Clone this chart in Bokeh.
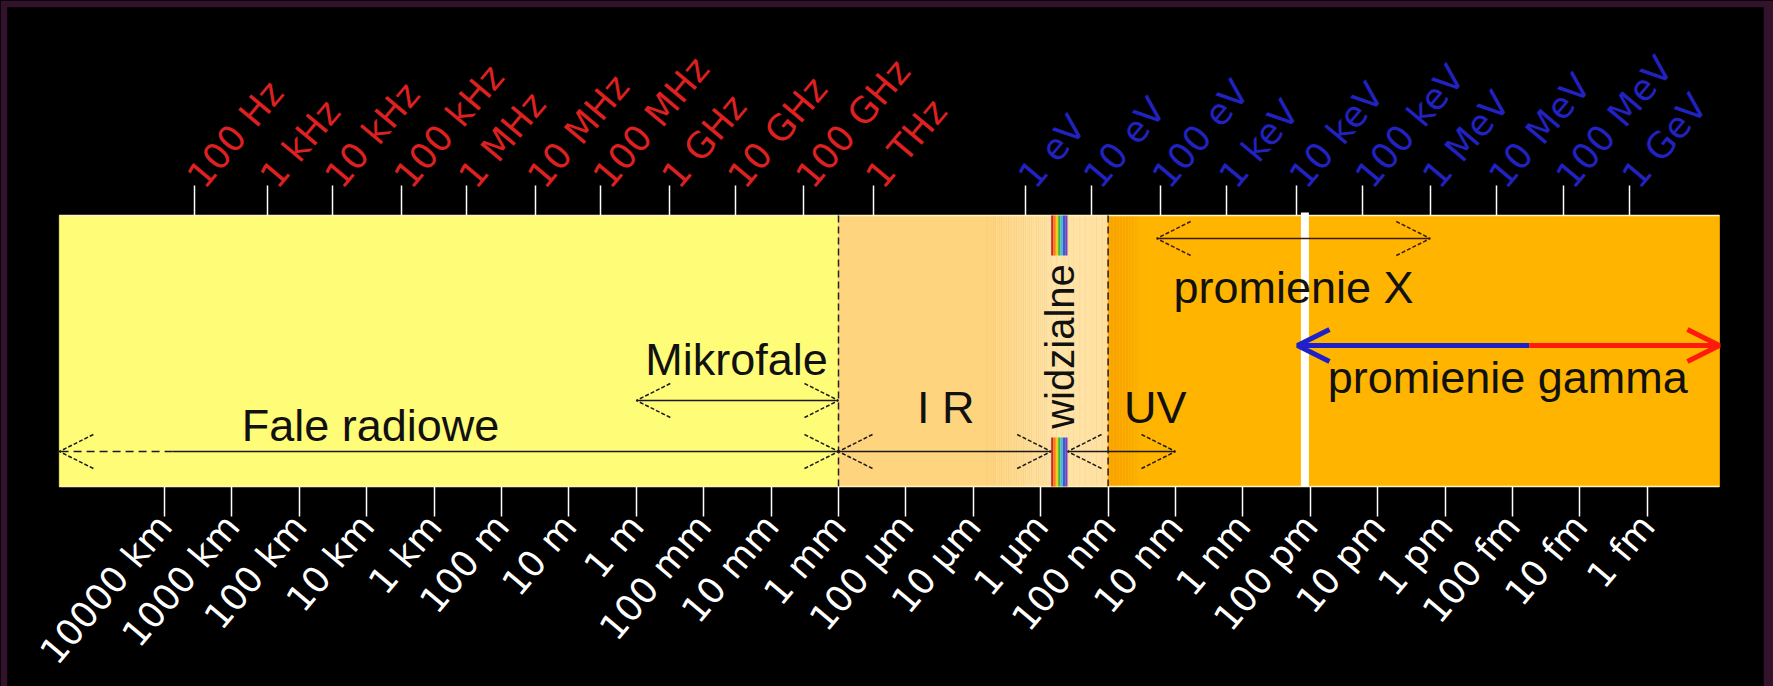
import math
from bokeh.plotting import figure
from bokeh.models import Range1d, LinearAxis, FixedTicker, Arrow, OpenHead, Label
from bokeh.embed import file_html
from bokeh.resources import INLINE

# ---------------- data (x = log10 of wavelength in metres) ----------
wave_labels = ["10000 km", "1000 km", "100 km", "10 km", "1 km", "100 m", "10 m", "1 m",
               "100 mm", "10 mm", "1 mm", "100 \u03bcm", "10 \u03bcm", "1 \u03bcm", "100 nm",
               "10 nm", "1 nm", "100 pm", "10 pm", "1 pm", "100 fm", "10 fm", "1 fm"]
wave_pos = [7, 6, 5, 4, 3, 2, 1, 0, -1, -2, -3, -4, -5, -6, -7, -8, -9, -10, -11, -12, -13, -14, -15]

freq_labels = ["100 Hz", "1 kHz", "10 kHz", "100 kHz", "1 MHz", "10 MHz", "100 MHz",
               "1 GHz", "10 GHz", "100 GHz", "1 THz"]
freq_pos = [6.55, 5.47, 4.51, 3.48, 2.52, 1.50, 0.53, -0.49, -1.47, -2.48, -3.52]

energy_labels = ["1 eV", "10 eV", "100 eV", "1 keV", "10 keV", "100 keV", "1 MeV",
                 "10 MeV", "100 MeV", "1 GeV"]
energy_pos = [-5.78, -6.75, -7.77, -8.76, -9.80, -10.78, -11.78, -12.76, -13.76, -14.74]

# band edges and region boundaries
band_start, band_end = 8.56, -16.07
micro_ir = -3.0          # 1 mm
ir_vis = -6.155          # 700 nm
vis_uv = -6.398          # 400 nm
uv_line = -7.0           # 100 nm
white_mark = -9.92

# ranges covered by the labelled arrows
radio_range = (band_start, 6.88, micro_ir)   # dashed start, solid from 2nd value
micro_range = (0.0, micro_ir)
ir_range = (micro_ir, ir_vis)
uv_range = (vis_uv, -8.0)
xray_range = (-7.72, -11.78)
gamma_range = (-9.81, -13.25, band_end)      # blue part, then red part

# ---------------- figure ----------------
BAND_TOP, BAND_BOT = 215, 486
p = figure(width=1773, height=686,
           x_range=Range1d(9.3294, -16.724), y_range=Range1d(686, 7),
           x_axis_type=None, y_axis_type=None,
           toolbar_location=None, output_backend="svg",
           min_border_left=7, min_border_top=7, min_border_right=10, min_border_bottom=0,
           background_fill_color="black", border_fill_color="#33122c",
           outline_line_color=None)


def hex2rgb(h):
    h = h.lstrip("#")
    return tuple(int(h[i:i + 2], 16) for i in (0, 2, 4))


def mix(c1, c2, t):
    a, b = hex2rgb(c1), hex2rgb(c2)
    return "#%02x%02x%02x" % tuple(int(round(a[i] + (b[i] - a[i]) * t)) for i in range(3))


segments = [
    (band_start, micro_ir, "#FFFF7C", "#FFF874", 1),
    (micro_ir, -5.2, "#FFD47E", "#FFD47E", 1),
    (-5.2, ir_vis, "#FFD47E", "#FFE2A4", 30),
    (ir_vis, uv_line, "#FFE4A8", "#FFE0A0", 10),
    (uv_line, -7.45, "#FFA800", "#FFB300", 20),
    (-7.45, band_end, "#FFB300", "#FFB400", 1),
]
lefts, rights, cols = [], [], []
for a, b, c1, c2, n in segments:
    for k in range(n):
        lefts.append(a + (b - a) * k / n)
        rights.append(a + (b - a) * (k + 1) / n)
        cols.append(mix(c1, c2, (k + 0.5) / n))
p.quad(left=lefts, right=rights, top=BAND_TOP, bottom=BAND_BOT,
       fill_color=cols, line_color=cols, line_width=0.8)

# pale rim of the band
p.segment(x0=[band_start, band_start], x1=[band_end, band_end],
          y0=[BAND_TOP, BAND_BOT], y1=[BAND_TOP, BAND_BOT],
          line_color="#FFF3C0", line_width=1.5)

# dashed region boundaries
p.segment(x0=[micro_ir, uv_line], x1=[micro_ir, uv_line], y0=BAND_TOP, y1=BAND_BOT,
          line_color="#222222", line_width=1.5, line_dash="7 4")

# visible light rainbow
rainbow = ["#c82828", "#ff7a10", "#e8d020", "#3cb43c", "#48b4e0", "#3060d8", "#7a40c0"]
vx = [ir_vis + (vis_uv - ir_vis) * (i + 0.5) / len(rainbow) for i in range(len(rainbow))]
p.segment(x0=vx, x1=vx, y0=BAND_TOP, y1=255, line_color=rainbow, line_width=2.3)
p.segment(x0=vx, x1=vx, y0=437, y1=BAND_BOT, line_color=rainbow, line_width=2.3)

# odd white mark
p.segment(x0=[white_mark], x1=[white_mark], y0=[212], y1=[BAND_BOT],
          line_color="white", line_width=8)

# ---------------- arrows ----------------
INK = "#1a1a1a"


def head(color=INK, size=34, width=1.5, dash="4 2"):
    return OpenHead(size=size, line_color=color, line_width=width, line_dash=dash)


# radio waves (dashed tail at the left)
p.add_layout(Arrow(x_start=radio_range[1], y_start=451, x_end=radio_range[0], y_end=451,
                   end=head(), line_color=INK, line_width=1.5, line_dash="8 5"))
p.add_layout(Arrow(x_start=radio_range[1], y_start=451, x_end=radio_range[2], y_end=451,
                   start=None, end=head(), line_color=INK, line_width=1.5))
# microwaves
p.add_layout(Arrow(x_start=micro_range[0], y_start=400, x_end=micro_range[1], y_end=400,
                   start=head(), end=head(), line_color=INK, line_width=1.5))
# IR
p.add_layout(Arrow(x_start=ir_range[0], y_start=451, x_end=ir_range[1], y_end=451,
                   start=head(), end=head(), line_color=INK, line_width=1.5))
# UV
p.add_layout(Arrow(x_start=uv_range[0], y_start=451, x_end=uv_range[1], y_end=451,
                   start=head(), end=head(), line_color=INK, line_width=1.5))
# X rays
p.add_layout(Arrow(x_start=xray_range[0], y_start=238, x_end=xray_range[1], y_end=238,
                   start=head("#3a1a10"), end=head("#3a1a10"), line_color="#3a1a10", line_width=1.5))
# gamma rays (blue / red, thick)
p.add_layout(Arrow(x_start=gamma_range[1], y_start=345, x_end=gamma_range[0], y_end=345,
                   end=head("#2020c8", 32, 5, "solid"), line_color="#2020c8", line_width=5))
p.add_layout(Arrow(x_start=gamma_range[1], y_start=345, x_end=gamma_range[2], y_end=345,
                   end=head("#ff1a0a", 32, 5, "solid"), line_color="#ff1a0a", line_width=5))

# ---------------- region labels ----------------
FONT = "Liberation Sans"
LBL = dict(text_font=FONT, text_font_size="45px", text_color="#111111",
           text_baseline="alphabetic", text_align="center")
p.add_layout(Label(x=3.944, y=425, text="Fale radiowe", **LBL))
p.add_layout(Label(x=-1.487, y=359, text="Mikrofale", **LBL))
p.add_layout(Label(x=-4.59, y=407, text="I R", **LBL))
p.add_layout(Label(x=-7.70, y=407, text="UV", **LBL))
p.add_layout(Label(x=-9.751, y=287, text="promienie X", **LBL))
p.add_layout(Label(x=-12.93, y=377, text="promienie gamma", **LBL))
p.add_layout(Label(x=-6.279, y=346, text="widzialne", text_align="center",
                   text_baseline="middle", angle=math.pi / 2, text_font=FONT,
                   text_font_size="40px", text_color="#111111"))

# ---------------- scales (axes) ----------------
def make_axis(pos, labels, color, loc):
    ax = LinearAxis(ticker=FixedTicker(ticks=pos),
                    major_label_overrides={v: t for v, t in zip(pos, labels)},
                    fixed_location=loc)
    ax.axis_line_color = None
    ax.minor_tick_line_color = None
    ax.major_tick_line_color = "white"
    ax.major_tick_line_width = 1.5
    ax.major_tick_in = 0
    ax.major_tick_out = 30
    ax.major_label_orientation = math.radians(50)
    ax.major_label_standoff = 3
    ax.major_label_text_font = "DejaVu Sans"
    ax.major_label_text_font_size = "36px"
    ax.major_label_text_color = color
    return ax


p.add_layout(make_axis(freq_pos, freq_labels, "#dd2020", BAND_TOP), "above")
p.add_layout(make_axis(energy_pos, energy_labels, "#2222c0", BAND_TOP), "above")
p.add_layout(make_axis(wave_pos, wave_labels, "#ffffff", BAND_BOT), "below")

html = file_html(p, INLINE, title="Widmo fal elektromagnetycznych")
html = html.replace("<head>", "<head><style>body{background:#000000;}</style>", 1)
open("out.html", "w").write(html)
